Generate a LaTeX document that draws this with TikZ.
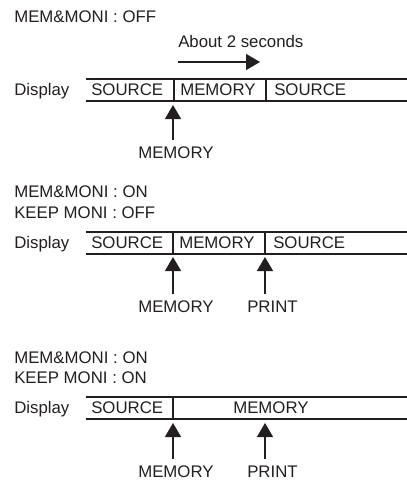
\documentclass[tikz,border=0pt]{standalone}
\usepackage{fontspec}
\setmainfont{Liberation Sans}
\usepackage{xcolor}
\usetikzlibrary{arrows.meta}
\definecolor{ink}{HTML}{231F20}

\begin{document}
\begin{tikzpicture}[
  x=0.75pt, y=-0.75pt,
  font=\fontsize{12.6}{15}\selectfont, color=ink,
  txt/.style={anchor=base west, inner sep=0pt},
  band/.style={line width=1pt},
  arr/.style={-{Triangle[length=10.5pt, width=12pt]}, line width=0.9pt},
  uparr/.style={arr, shorten <=4.5pt}
]
  \useasboundingbox (0,0) rectangle (407,483);

  % Case 1: MEM&MONI off, memory shown for a while
  \node[txt] (hd1)  at (14,22)  {MEM\&MONI : OFF};
  \node[txt] (time) at (178,47) {About 2 seconds};
  \coordinate (go)   at (178,62);
  \coordinate (stop) at (260,62);
  \draw[arr] (go) -- (stop);

  \node[txt] (disp1) at (14,95)  {Display};
  \node[txt] (src1)  at (91,95)  {SOURCE};
  \node[txt] (mem1)  at (180,95) {MEMORY};
  \node[txt] (back1) at (274,95) {SOURCE};
  \draw[band] (86,79) -- (407,79) (86,101) -- (407,101);
  \draw[band] (174,79) -- (174,101) (266,79) -- (266,101);

  \coordinate (t1) at (173,105);
  \node[txt] (key1) at (138,158) {MEMORY};
  \draw[uparr] (t1 |- key1.north) -- (t1);

  % Case 2: MEM&MONI on, KEEP MONI off
  \node[txt] (hd2a) at (14,197) {MEM\&MONI : ON};
  \node[txt] (hd2b) at (14,218) {KEEP MONI : OFF};

  \node[txt] (disp2) at (14,248)  {Display};
  \node[txt] (src2)  at (91,248)  {SOURCE};
  \node[txt] (mem2)  at (179,248) {MEMORY};
  \node[txt] (back2) at (273,248) {SOURCE};
  \draw[band] (86,232) -- (407,232) (86,254) -- (407,254);
  \draw[band] (173,232) -- (173,254) (265,232) -- (265,254);

  \coordinate (t2) at (173,257);
  \coordinate (p2) at (265,257);
  \node[txt] (key2)  at (138,312) {MEMORY};
  \node[txt] (prn2)  at (247,312) {PRINT};
  \draw[uparr] (t2 |- key2.north) -- (t2);
  \draw[uparr] (p2 |- prn2.north) -- (p2);

  % Case 3: MEM&MONI on, KEEP MONI on
  \node[txt] (hd3a) at (14,363) {MEM\&MONI : ON};
  \node[txt] (hd3b) at (14,383) {KEEP MONI : ON};

  \node[txt] (disp3) at (14,413)  {Display};
  \node[txt] (src3)  at (91,413)  {SOURCE};
  \node[txt] (mem3)  at (233,413) {MEMORY};
  \draw[band] (86,397) -- (407,397) (86,419) -- (407,419);
  \draw[band] (173,397) -- (173,419);

  \coordinate (t3) at (173,423);
  \coordinate (p3) at (265,423);
  \node[txt] (key3)  at (138,477) {MEMORY};
  \node[txt] (prn3)  at (247,477) {PRINT};
  \draw[uparr] (t3 |- key3.north) -- (t3);
  \draw[uparr] (p3 |- prn3.north) -- (p3);

\end{tikzpicture}
\end{document}
